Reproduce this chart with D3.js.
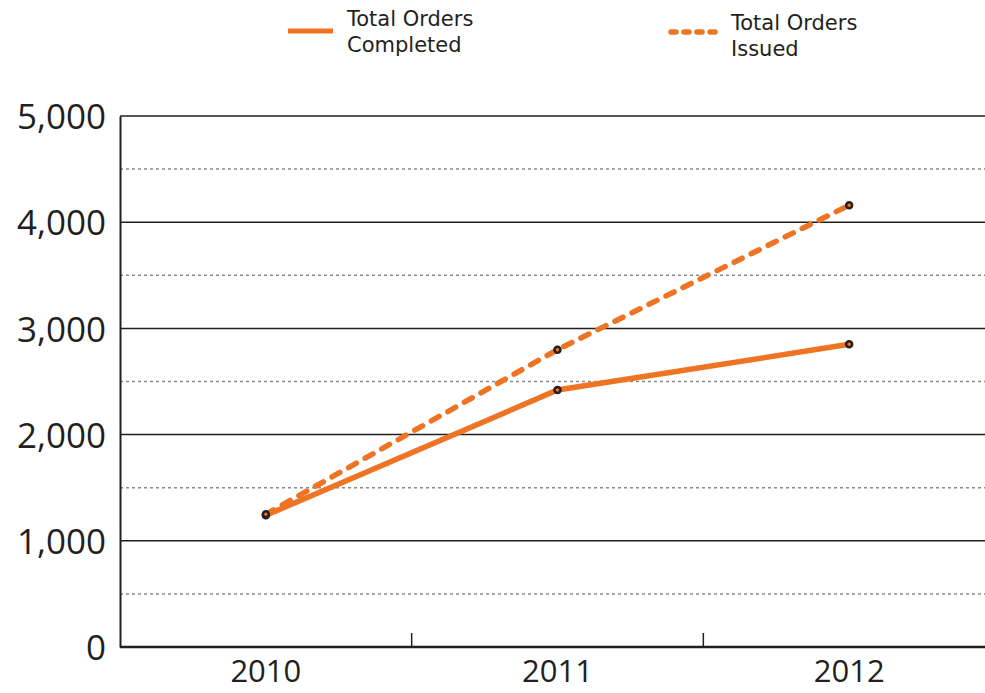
<!DOCTYPE html>
<html>
<head>
<meta charset="utf-8">
<script src="https://cdn.jsdelivr.net/npm/d3@7"></script>
<style>
  body { margin: 0; background: #fff; }
  svg { display: block; }
  .tick-y text { font-family: "Open Sans", sans-serif; font-size: 35px; fill: #231f20; }
  .tick-x text { font-family: "Open Sans", sans-serif; font-size: 31px; fill: #231f20; }
  .legend text { font-family: "DejaVu Sans", Verdana, sans-serif; font-size: 21px; fill: #231f20; }
</style>
</head>
<body>
<svg width="985" height="693"></svg>
<script>
const years = ['2010', '2011', '2012']
const completed = [1240, 2420, 2850]
const issued = [1250, 2800, 4160]
const majorTicks = [0, 1000, 2000, 3000, 4000, 5000]
const minorTicks = [500, 1500, 2500, 3500, 4500]

const orange = '#ee7424'
const ink = '#231f20'

const svg = d3.select('svg'),
  margin = {top:116,right:-10,bottom:46,left:120},
  width = svg.attr('width') - margin.left - margin.right,
  height = svg.attr('height') - margin.top - margin.bottom

const g = svg.append('g')
  .attr('transform',`translate(${margin.left},${margin.top})`)

const x = d3.scaleBand().domain(years).range([0,width])
const y = d3.scaleLinear().domain([0,5000]).range([height,0])

// minor dotted grid
g.append('g').selectAll('line').data(minorTicks).enter().append('line')
  .attr('x1',0).attr('x2',width)
  .attr('y1',y).attr('y2',y)
  .attr('stroke','#8a8a8a').attr('stroke-width',1.5)
  .attr('stroke-dasharray','3,3')

// major solid grid
g.append('g').selectAll('line').data(majorTicks.filter(d => d > 0)).enter().append('line')
  .attr('x1',0).attr('x2',width)
  .attr('y1',y).attr('y2',y)
  .attr('stroke',ink).attr('stroke-width',1.5)

// y axis
const yAxis = g.append('g').attr('class','tick-y')
  .call(d3.axisLeft(y).tickValues(majorTicks).tickFormat(d3.format(',')).tickSize(0).tickPadding(14))
yAxis.select('.domain').attr('stroke',ink).attr('stroke-width',2)
yAxis.selectAll('text').attr('dy','0.36em')

// x axis
const xAxis = g.append('g').attr('class','tick-x')
  .attr('transform',`translate(0,${height})`)
  .call(d3.axisBottom(x).tickSize(0).tickPadding(26))
xAxis.select('.domain').remove()
xAxis.selectAll('text').attr('dy','0.3em')
g.append('line')
  .attr('x1',0).attr('x2',width).attr('y1',height).attr('y2',height)
  .attr('stroke',ink).attr('stroke-width',2.5)
g.append('g').selectAll('line').data(years.slice(1)).enter().append('line')
  .attr('x1',d => x(d)).attr('x2',d => x(d))
  .attr('y1',height).attr('y2',height-14)
  .attr('stroke',ink).attr('stroke-width',1.5)

const cx = d => x(d) + x.bandwidth()/2
const line = d3.line().x(d => cx(d[0])).y(d => y(d[1]))

g.append('path')
  .datum(years.map((d,i) => [d, issued[i]]))
  .attr('d',line).attr('fill','none')
  .attr('stroke',orange).attr('stroke-width',5.5)
  .attr('stroke-linecap','round')
  .attr('stroke-dasharray','9,10')

g.append('path')
  .datum(years.map((d,i) => [d, completed[i]]))
  .attr('d',line).attr('fill','none')
  .attr('stroke',orange).attr('stroke-width',5.5)

const dots = [...years.map((d,i) => [d, completed[i]]), ...years.map((d,i) => [d, issued[i]])]
g.append('g').selectAll('circle').data(dots).enter().append('circle')
  .attr('cx',d => cx(d[0])).attr('cy',d => y(d[1]))
  .attr('r',3).attr('fill',orange)
  .attr('stroke',ink).attr('stroke-width',2.5)

// legend
const legend = svg.append('g').attr('class','legend')
legend.append('line')
  .attr('x1',288).attr('x2',333).attr('y1',31).attr('y2',31)
  .attr('stroke',orange).attr('stroke-width',5)
legend.append('text').attr('x',347).attr('y',26).text('Total Orders')
legend.append('text').attr('x',347).attr('y',52).text('Completed')
legend.append('line')
  .attr('x1',671).attr('x2',718).attr('y1',32).attr('y2',32)
  .attr('stroke',orange).attr('stroke-width',5.5)
  .attr('stroke-linecap','round')
  .attr('stroke-dasharray','5,8')
legend.append('text').attr('x',731).attr('y',30).text('Total Orders')
legend.append('text').attr('x',731).attr('y',56).text('Issued')
</script>
</body>
</html>
